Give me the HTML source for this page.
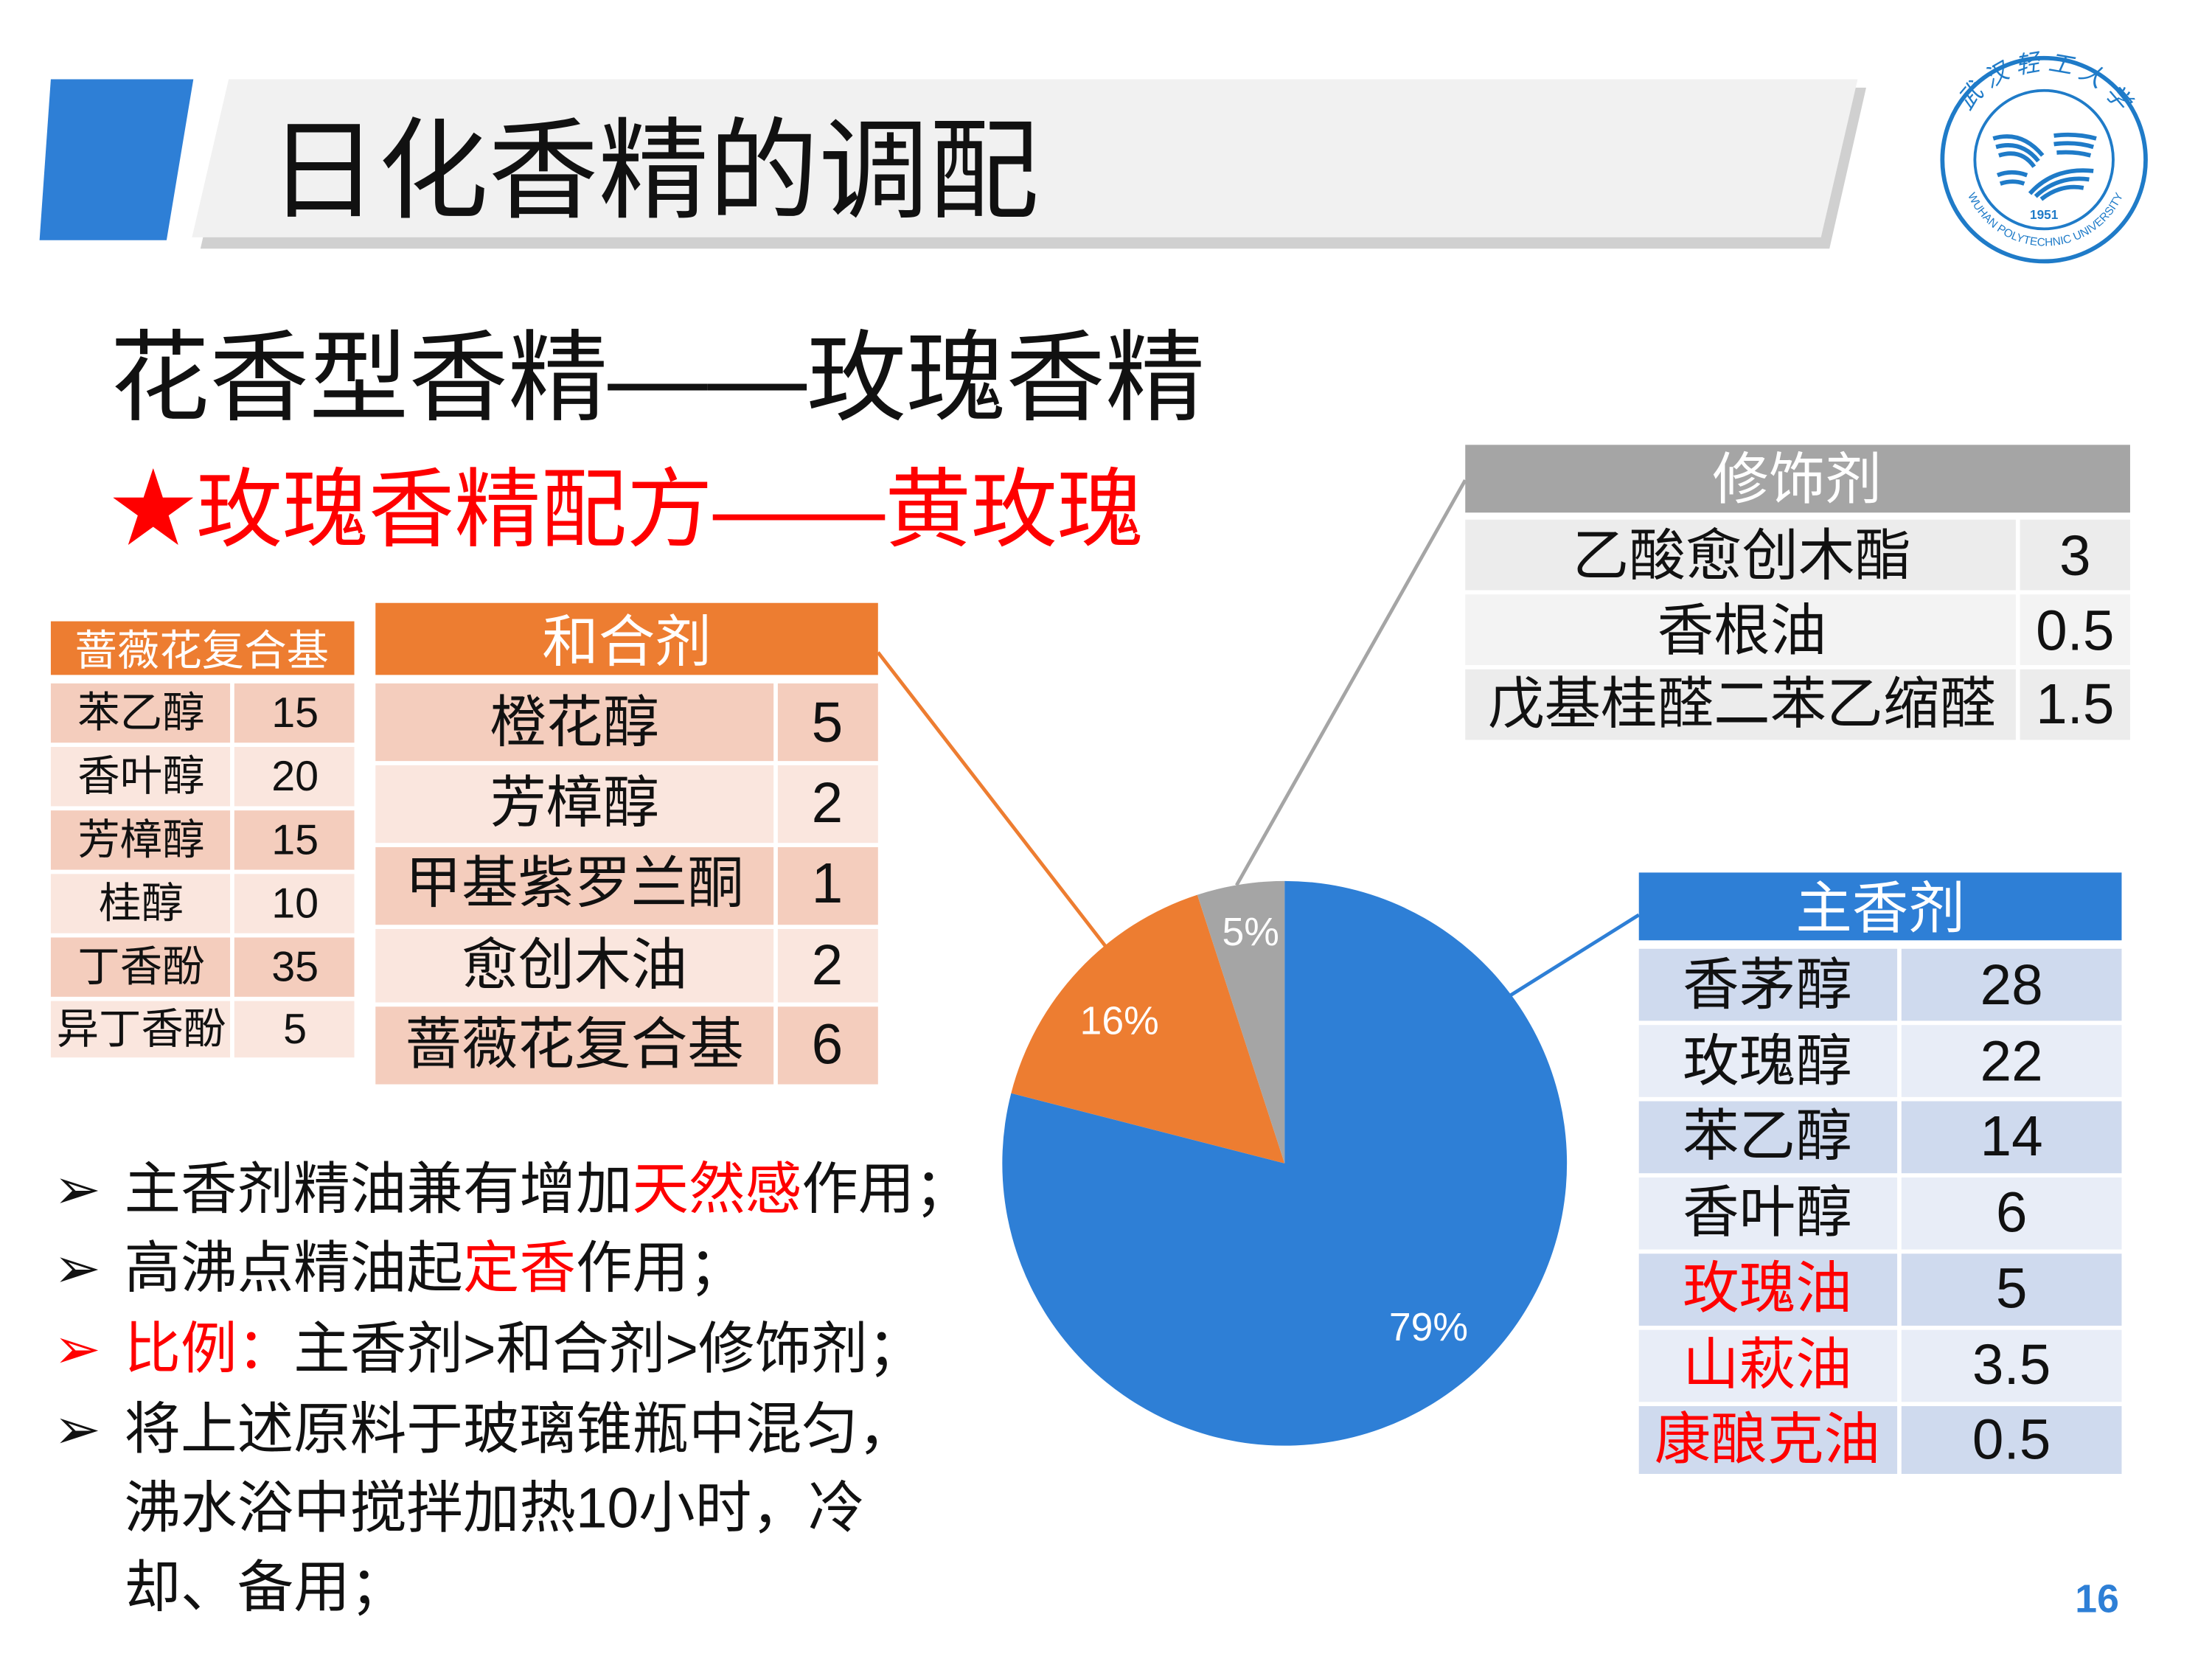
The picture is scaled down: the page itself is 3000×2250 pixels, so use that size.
<!DOCTYPE html>
<html><head><meta charset="utf-8"><style>
html,body{margin:0;padding:0;background:#fff}
svg{display:block}
text{font-family:"Liberation Sans","Noto Sans CJK SC",sans-serif}
</style></head><body>
<svg width="3000" height="2250" viewBox="0 0 1567 1175" xmlns="http://www.w3.org/2000/svg">
<defs><path id="arc" d="M1385,113 A63,63 0 0 1 1511,113"/><path id="arc2" d="M1390,125 A60,60 0 0 0 1508,125"/></defs>
<rect width="1567" height="1175" fill="#fff"/>
<!-- title bar -->
<polygon points="36,56 137,56 118,170 28,170" fill="#2e7fd6"/>
<polygon points="168,62 1322,62 1296,176 142,176" fill="#d0d0d0"/>
<polygon points="162,56 1316,56 1290,168 136,168" fill="#f1f1f1"/>
<text x="190" y="148" font-size="78" fill="#111">日化香精的调配</text>
<!-- logo -->
<g fill="none" stroke="#1f7bc8">
<circle cx="1448" cy="113" r="72" stroke-width="3"/>
<circle cx="1448" cy="113" r="49" stroke-width="2"/>
<path d="M1412,98 Q1432,92 1447,110 M1414,104 Q1432,99 1444,114 M1416,110 Q1432,105 1441,118 M1455,96 Q1470,94 1485,98 M1455,102 Q1470,100 1483,104 M1457,108 Q1470,107 1481,110 M1415,124 Q1425,120 1436,124 M1417,130 Q1426,127 1434,130 M1438,137 Q1455,118 1483,121 M1442,139 Q1458,124 1480,127 M1446,141 Q1460,130 1476,133" stroke-width="3"/>
</g>
<text x="1448" y="155" font-size="9" fill="#1f7bc8" text-anchor="middle" font-weight="bold">1951</text>
<text font-size="17" fill="#1f7bc8" font-style="italic"><textPath href="#arc" startOffset="50%" text-anchor="middle">武 汉 轻 工 大 学</textPath></text>
<text font-size="8" fill="#1f7bc8" font-family="Liberation Serif,serif"><textPath href="#arc2" startOffset="50%" text-anchor="middle">WUHAN POLYTECHNIC UNIVERSITY</textPath></text>
<!-- subtitles -->
<text x="78" y="292" font-size="70.5" fill="#111">花香型香精——玫瑰香精</text>
<text x="78" y="382" font-size="61" fill="#ff0000">★玫瑰香精配方——黄玫瑰</text>
<!-- left table -->
<g font-size="30" text-anchor="middle" dominant-baseline="central" fill="#111">
<rect x="36" y="440" width="215" height="38" fill="#ed7d31"/>
<text x="143" y="461" fill="#fff">蔷薇花复合基</text>
<rect x="36" y="484" width="127" height="42" fill="#f4cdbd"/><rect x="166" y="484" width="85" height="42" fill="#f4cdbd"/>
<rect x="36" y="529" width="127" height="42" fill="#fae6de"/><rect x="166" y="529" width="85" height="42" fill="#fae6de"/>
<rect x="36" y="574" width="127" height="42" fill="#f4cdbd"/><rect x="166" y="574" width="85" height="42" fill="#f4cdbd"/>
<rect x="36" y="619" width="127" height="42" fill="#fae6de"/><rect x="166" y="619" width="85" height="42" fill="#fae6de"/>
<rect x="36" y="664" width="127" height="42" fill="#f4cdbd"/><rect x="166" y="664" width="85" height="42" fill="#f4cdbd"/>
<rect x="36" y="709" width="127" height="40" fill="#fae6de"/><rect x="166" y="709" width="85" height="40" fill="#fae6de"/>
<text x="100" y="505">苯乙醇</text><text x="209" y="505">15</text>
<text x="100" y="550">香叶醇</text><text x="209" y="550">20</text>
<text x="100" y="595">芳樟醇</text><text x="209" y="595">15</text>
<text x="100" y="640">桂醇</text><text x="209" y="640">10</text>
<text x="100" y="685">丁香酚</text><text x="209" y="685">35</text>
<text x="100" y="729">异丁香酚</text><text x="209" y="729">5</text>
</g>
<!-- 和合剂 -->
<g font-size="40" text-anchor="middle" dominant-baseline="central" fill="#111">
<rect x="266" y="427" width="356" height="51" fill="#ed7d31"/>
<text x="444" y="455" fill="#fff">和合剂</text>
<rect x="266" y="484" width="282" height="55" fill="#f4cdbd"/><rect x="551" y="484" width="71" height="55" fill="#f4cdbd"/>
<rect x="266" y="542" width="282" height="55" fill="#fae6de"/><rect x="551" y="542" width="71" height="55" fill="#fae6de"/>
<rect x="266" y="600" width="282" height="55" fill="#f4cdbd"/><rect x="551" y="600" width="71" height="55" fill="#f4cdbd"/>
<rect x="266" y="658" width="282" height="52" fill="#fae6de"/><rect x="551" y="658" width="71" height="52" fill="#fae6de"/>
<rect x="266" y="713" width="282" height="55" fill="#f4cdbd"/><rect x="551" y="713" width="71" height="55" fill="#f4cdbd"/>
<text x="407" y="512">橙花醇</text><text x="586" y="512">5</text>
<text x="407" y="569">芳樟醇</text><text x="586" y="569">2</text>
<text x="407" y="626">甲基紫罗兰酮</text><text x="586" y="626">1</text>
<text x="407" y="684">愈创木油</text><text x="586" y="684">2</text>
<text x="407" y="740">蔷薇花复合基</text><text x="586" y="740">6</text>
</g>
<!-- 修饰剂 -->
<g font-size="40" text-anchor="middle" dominant-baseline="central" fill="#111">
<rect x="1038" y="315" width="471" height="48" fill="#a5a5a5"/>
<text x="1273" y="340" fill="#fff">修饰剂</text>
<rect x="1038" y="368" width="390" height="50" fill="#ececec"/><rect x="1431" y="368" width="78" height="50" fill="#ececec"/>
<rect x="1038" y="421" width="390" height="50" fill="#f3f3f3"/><rect x="1431" y="421" width="78" height="50" fill="#f3f3f3"/>
<rect x="1038" y="474" width="390" height="50" fill="#ececec"/><rect x="1431" y="474" width="78" height="50" fill="#ececec"/>
<text x="1234" y="394">乙酸愈创木酯</text><text x="1470" y="394">3</text>
<text x="1234" y="447">香根油</text><text x="1470" y="447">0.5</text>
<text x="1234" y="499">戊基桂醛二苯乙缩醛</text><text x="1470" y="499">1.5</text>
</g>
<!-- 主香剂 -->
<g font-size="40" text-anchor="middle" dominant-baseline="central" fill="#111">
<rect x="1161" y="618" width="342" height="48" fill="#2e7fd6"/>
<text x="1332" y="644" fill="#fff">主香剂</text>
<rect x="1161" y="672" width="183" height="51" fill="#cfdaee"/><rect x="1347" y="672" width="156" height="51" fill="#cfdaee"/>
<rect x="1161" y="726" width="183" height="51" fill="#e8edf7"/><rect x="1347" y="726" width="156" height="51" fill="#e8edf7"/>
<rect x="1161" y="780" width="183" height="51" fill="#cfdaee"/><rect x="1347" y="780" width="156" height="51" fill="#cfdaee"/>
<rect x="1161" y="834" width="183" height="51" fill="#e8edf7"/><rect x="1347" y="834" width="156" height="51" fill="#e8edf7"/>
<rect x="1161" y="888" width="183" height="51" fill="#cfdaee"/><rect x="1347" y="888" width="156" height="51" fill="#cfdaee"/>
<rect x="1161" y="942" width="183" height="51" fill="#e8edf7"/><rect x="1347" y="942" width="156" height="51" fill="#e8edf7"/>
<rect x="1161" y="996" width="183" height="48" fill="#cfdaee"/><rect x="1347" y="996" width="156" height="48" fill="#cfdaee"/>
<text x="1252" y="698">香茅醇</text><text x="1425" y="698">28</text>
<text x="1252" y="752">玫瑰醇</text><text x="1425" y="752">22</text>
<text x="1252" y="805">苯乙醇</text><text x="1425" y="805">14</text>
<text x="1252" y="859">香叶醇</text><text x="1425" y="859">6</text>
<text x="1252" y="913" fill="#ff0000">玫瑰油</text><text x="1425" y="913">5</text>
<text x="1252" y="967" fill="#ff0000">山萩油</text><text x="1425" y="967">3.5</text>
<text x="1252" y="1020" fill="#ff0000">康酿克油</text><text x="1425" y="1020">0.5</text>
</g>
<!-- connectors -->
<line x1="622" y1="462" x2="783" y2="670" stroke="#ed7d31" stroke-width="2.5"/>
<line x1="1038" y1="340" x2="876" y2="627" stroke="#a5a5a5" stroke-width="2.5"/>
<line x1="1161" y1="648" x2="1070" y2="705" stroke="#2e7fd6" stroke-width="2.5"/>
<!-- pie -->
<path d="M910,824 L910,624 A200,200 0 1 1 716.3,774.3 Z" fill="#2e7fd6"/>
<path d="M910,824 L716.3,774.3 A200,200 0 0 1 848.2,633.8 Z" fill="#ed7d31"/>
<path d="M910,824 L848.2,633.8 A200,200 0 0 1 910,624 Z" fill="#a5a5a5"/>
<g font-size="28" fill="#fff" text-anchor="middle" dominant-baseline="central">
<text x="1012" y="940">79%</text><text x="793" y="723">16%</text><text x="886" y="660">5%</text>
</g>
<!-- bullets -->
<g font-size="40" fill="#111">
<text x="38" y="856">➢</text><text x="88" y="856">主香剂精油兼有增加<tspan fill="#ff0000">天然感</tspan>作用；</text>
<text x="38" y="912">➢</text><text x="88" y="912">高沸点精油起<tspan fill="#ff0000">定香</tspan>作用；</text>
<text x="38" y="969" fill="#ff0000">➢</text><text x="88" y="969"><tspan fill="#ff0000">比例：</tspan>主香剂&gt;和合剂&gt;修饰剂；</text>
<text x="38" y="1026">➢</text><text x="88" y="1026">将上述原料于玻璃锥瓶中混匀，</text>
<text x="88" y="1082">沸水浴中搅拌加热10小时，冷</text>
<text x="88" y="1138">却、备用；</text>
</g>
<text x="1470" y="1142" font-size="28" font-weight="bold" fill="#2e7fd6">16</text>
</svg>
</body></html>
